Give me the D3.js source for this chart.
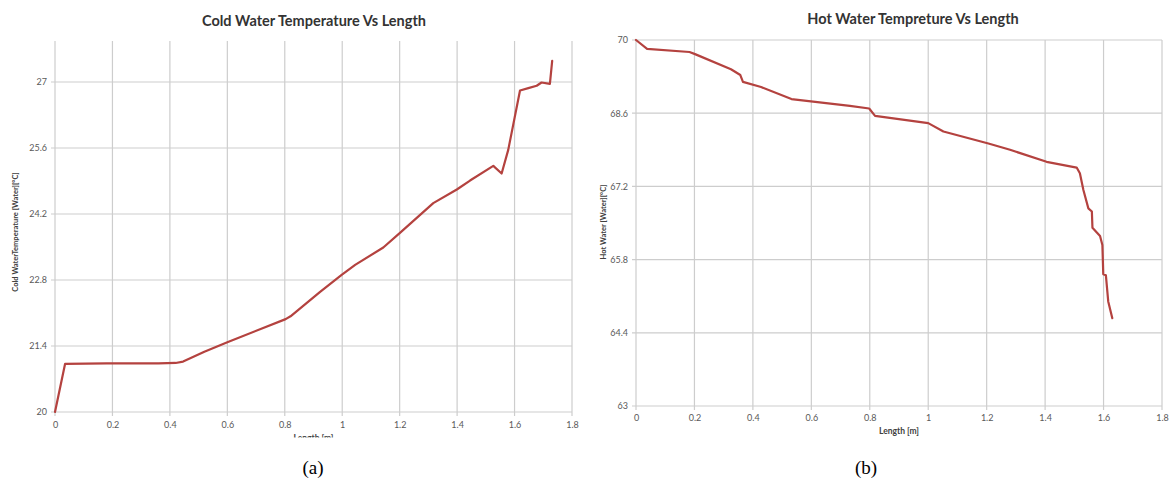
<!DOCTYPE html>
<html>
<head>
<meta charset="utf-8">
<script src="https://cdn.jsdelivr.net/npm/d3@7/dist/d3.min.js"></script>
<style>
html,body{margin:0;padding:0;background:#fff;}
svg{display:block;}
</style>
</head>
<body>
<svg id="chart" width="1169" height="481"></svg>
<script>
// ---------- data ----------
const xTickValues = [0, 0.2, 0.4, 0.6, 0.8, 1, 1.2, 1.4, 1.6, 1.8];
const xTickLabels = ["0", "0.2", "0.4", "0.6", "0.8", "1", "1.2", "1.4", "1.6", "1.8"];

const coldTickValues = [20, 21.4, 22.8, 24.2, 25.6, 27];
const coldTickLabels = ["20", "21.4", "22.8", "24.2", "25.6", "27"];
const coldLength = [0, 0.035, 0.18, 0.32, 0.36, 0.42, 0.446, 0.52, 0.60, 0.803, 0.82, 0.923, 0.998, 1.045, 1.143, 1.201, 1.317, 1.399, 1.445, 1.526, 1.555, 1.578, 1.619, 1.648, 1.677, 1.694, 1.723, 1.731];
const coldTemp   = [20, 21.02, 21.03, 21.03, 21.03, 21.04, 21.07, 21.28, 21.48, 21.97, 22.03, 22.55, 22.91, 23.12, 23.49, 23.80, 24.43, 24.72, 24.91, 25.22, 25.06, 25.56, 26.82, 26.87, 26.92, 26.99, 26.96, 27.45];

const hotTickValues = [63, 64.4, 65.8, 67.2, 68.6, 70];
const hotTickLabels = ["63", "64.4", "65.8", "67.2", "68.6", "70"];
const hotLength = [0, 0.038, 0.183, 0.202, 0.325, 0.357, 0.366, 0.428, 0.532, 0.732, 0.798, 0.818, 1.0, 1.052, 1.206, 1.28, 1.405, 1.508, 1.519, 1.531, 1.548, 1.56, 1.562, 1.588, 1.596, 1.599, 1.608, 1.616, 1.630];
const hotTemp   = [70, 69.83, 69.77, 69.73, 69.44, 69.33, 69.2, 69.1, 68.87, 68.74, 68.69, 68.55, 68.41, 68.25, 68.02, 67.9, 67.67, 67.56, 67.45, 67.13, 66.78, 66.72, 66.41, 66.25, 66.08, 65.52, 65.5, 65.0, 64.68];

// ---------- drawing ----------
const svg = d3.select("#chart");
const FONT = "Lato, 'Open Sans', sans-serif";
const GRID = "#cdcdcd";
const LINE = "#b4423f";
const TICKTXT = "#595959";

svg.append("defs").append("clipPath").attr("id", "clipA")
  .append("rect").attr("x", 0).attr("y", 0).attr("width", 590).attr("height", 437.5);

function drawChart(opt) {
  const g = svg.append("g");
  const x = d3.scaleLinear().domain([0, 1.8]).range([opt.left, opt.right]);
  const y = d3.scaleLinear().domain(opt.yDomain).range([opt.bottom, opt.top]);

  // vertical gridlines (with outward tick)
  g.append("g").selectAll("line").data(xTickValues).join("line")
    .attr("x1", d => x(d)).attr("x2", d => x(d))
    .attr("y1", opt.top).attr("y2", opt.bottom + 4)
    .attr("stroke", GRID).attr("stroke-width", 1.2);

  // horizontal gridlines (with outward tick)
  g.append("g").selectAll("line").data(opt.yTicks).join("line")
    .attr("x1", opt.left - 4).attr("x2", opt.right)
    .attr("y1", d => y(d)).attr("y2", d => y(d))
    .attr("stroke", GRID).attr("stroke-width", 1.2);

  // x tick labels
  const xAxis = d3.axisBottom(x).tickValues(xTickValues)
    .tickFormat((d, i) => xTickLabels[i]).tickSize(0).tickPadding(opt.xPad);
  const gx = g.append("g").attr("transform", `translate(0,${opt.bottom})`).call(xAxis);
  gx.select(".domain").remove();
  gx.selectAll("text").attr("fill", TICKTXT).style("font-family", FONT).style("font-size", "9px");

  // y tick labels
  const yAxis = d3.axisLeft(y).tickValues(opt.yTicks)
    .tickFormat((d, i) => opt.yLabels[i]).tickSize(0).tickPadding(opt.yPad);
  const gy = g.append("g").attr("transform", `translate(${opt.left},0)`).call(yAxis);
  gy.select(".domain").remove();
  gy.selectAll("text").attr("fill", TICKTXT).style("font-family", FONT).style("font-size", "9px");

  // series line
  const pts = opt.xs.map((v, i) => [v, opt.ys[i]]);
  g.append("path").datum(pts)
    .attr("fill", "none").attr("stroke", LINE).attr("stroke-width", 2.2)
    .attr("stroke-linejoin", "round").attr("stroke-linecap", "round")
    .attr("d", d3.line().x(d => x(d[0])).y(d => y(d[1])));

  // title
  g.append("text").attr("x", opt.titleX).attr("y", opt.titleY)
    .attr("text-anchor", "middle").attr("fill", "#333")
    .style("font-family", FONT).style("font-weight", "bold").style("font-size", "14.5px")
    .text(opt.title);

  // x axis title
  const xt = g.append("text").attr("x", (opt.left + opt.right) / 2).attr("y", opt.xTitleY)
    .attr("text-anchor", "middle").attr("fill", "#404040")
    .style("font-family", FONT).style("font-weight", "bold").style("font-size", "8.5px")
    .text("Length [m]");
  if (opt.clip) xt.attr("clip-path", "url(#" + opt.clip + ")");

  // y axis title
  g.append("text")
    .attr("transform", `translate(${opt.yTitleX},${opt.yTitleY}) rotate(-90)`)
    .attr("text-anchor", "middle").attr("fill", "#404040")
    .style("font-family", FONT).style("font-weight", "bold").style("font-size", "7.5px")
    .text(opt.yTitle);

  // panel caption
  svg.append("text").attr("x", opt.capX).attr("y", 474)
    .attr("text-anchor", "middle").attr("fill", "#000")
    .style("font-family", "'Liberation Serif', 'DejaVu Serif', serif").style("font-size", "19px")
    .text(opt.caption);
}

drawChart({
  left: 55, right: 572, top: 41, bottom: 412,
  yDomain: [20, 27.87], yTicks: coldTickValues, yLabels: coldTickLabels,
  xs: coldLength, ys: coldTemp,
  xPad: 10, yPad: 8,
  title: "Cold Water Temperature Vs Length", titleX: 314, titleY: 26,
  xTitleY: 441, clip: "clipA",
  yTitle: "Cold WaterTemperature [Water][°C]", yTitleX: 18, yTitleY: 232,
  caption: "(a)", capX: 313
});

drawChart({
  left: 636, right: 1162, top: 40, bottom: 406,
  yDomain: [63, 70], yTicks: hotTickValues, yLabels: hotTickLabels,
  xs: hotLength, ys: hotTemp,
  xPad: 9, yPad: 8,
  title: "Hot Water Tempreture Vs Length", titleX: 913, titleY: 24,
  xTitleY: 434, clip: null,
  yTitle: "Hot Water [Water][°C]", yTitleX: 606, yTitleY: 222,
  caption: "(b)", capX: 866
});
</script>
</body>
</html>
